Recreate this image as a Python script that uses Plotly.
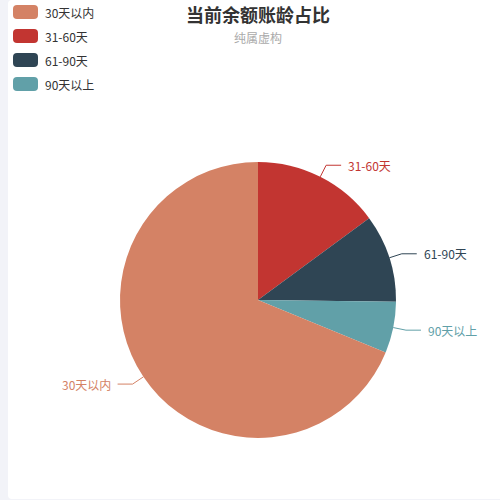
import math

import plotly.graph_objects as go

# slices in data order (pie runs clockwise from 12 o'clock)
labels = ["31-60天", "61-90天", "90天以上", "30天以内"]
values = [149, 103, 60, 688]
colors = ["#c23531", "#2f4554", "#61a0a8", "#d48265"]
# legend lists the items in this order
legend_order = ["30天以内", "31-60天", "61-90天", "90天以上"]

W = H = 500
CX, CY, R = 258, 300, 138
FONT = "Noto Sans CJK SC, Microsoft YaHei, sans-serif"

fig = go.Figure()
fig.add_pie(labels=labels, values=values, sort=False, direction="clockwise", rotation=0,
            marker=dict(colors=colors, line=dict(width=0)), textinfo="none", hoverinfo="label+percent",
            showlegend=False,
            domain=dict(x=[(CX - R) / W, (CX + R) / W], y=[1 - (CY + R) / H, 1 - (CY - R) / H]))

# leader lines + outside labels, placed at each slice's mid angle
annotations = []
total = sum(values)
cum = 0
for lab, val, col in zip(labels, values, colors):
    mid = (cum + val / 2) / total * 2 * math.pi
    cum += val
    sx, sy = math.sin(mid), -math.cos(mid)
    p0 = (CX + R * sx, CY + R * sy)
    p1 = (CX + (R + 13) * sx, CY + (R + 13) * sy)
    side = 1 if sx >= 0 else -1
    p2 = (p1[0] + 15 * side, p1[1])
    fig.add_scatter(x=[p0[0], p1[0], p2[0]], y=[p0[1], p1[1], p2[1]], mode="lines",
                    line=dict(color=col, width=1), hoverinfo="skip", showlegend=False)
    annotations.append(dict(x=p2[0] + 5 * side, y=p2[1], xref="x", yref="y", text=lab, showarrow=False,
                            xanchor="left" if side > 0 else "right", yanchor="middle",
                            font=dict(size=12, color=col, family=FONT)))

# titles
annotations.append(dict(x=CX / W, y=1 - 14 / H, xref="paper", yref="paper", text="<b>当前余额账龄占比</b>",
                        showarrow=False, xanchor="center", yanchor="middle",
                        font=dict(size=18, color="#333", family=FONT)))
annotations.append(dict(x=CX / W, y=1 - 38 / H, xref="paper", yref="paper", text="纯属虚构",
                        showarrow=False, xanchor="center", yanchor="middle",
                        font=dict(size=12, color="#aaa", family=FONT)))

# card background + hand-drawn legend (rounded swatches)
shapes = [dict(type="path", xref="x", yref="y", layer="below", line=dict(width=0), fillcolor="white",
               path="M 12 0 L 505 0 L 505 499 L 12 499 Q 8 499 8 495 L 8 4 Q 8 0 12 0 Z")]
col_of = dict(zip(labels, colors))
for i, lab in enumerate(legend_order):
    yc = 12 + 24 * i
    x0, x1, y0, y1, rr = 13, 38, yc - 7, yc + 7, 4
    shapes.append(dict(type="path", xref="x", yref="y", line=dict(width=0), fillcolor=col_of[lab],
                       path=(f"M {x0 + rr} {y0} L {x1 - rr} {y0} Q {x1} {y0} {x1} {y0 + rr} "
                             f"L {x1} {y1 - rr} Q {x1} {y1} {x1 - rr} {y1} L {x0 + rr} {y1} "
                             f"Q {x0} {y1} {x0} {y1 - rr} L {x0} {y0 + rr} Q {x0} {y0} {x0 + rr} {y0} Z")))
    annotations.append(dict(x=43, y=yc, xref="x", yref="y", text=lab, showarrow=False,
                            xanchor="left", yanchor="middle", font=dict(size=12, color="#333", family=FONT)))

fig.update_layout(width=W, height=H, margin=dict(l=0, r=0, t=0, b=0),
                  paper_bgcolor="#f2f3f8", plot_bgcolor="rgba(0,0,0,0)",
                  xaxis=dict(range=[0, W], visible=False, fixedrange=True),
                  yaxis=dict(range=[H, 0], visible=False, fixedrange=True),
                  shapes=shapes, annotations=annotations, showlegend=False,
                  font=dict(family=FONT))
# drop the browser's default 8px body margin so the figure sits at the window origin
fig.write_html("out.html", config={"displayModeBar": False},
               post_script="document.body.style.margin='0';document.body.style.overflow='hidden';")
